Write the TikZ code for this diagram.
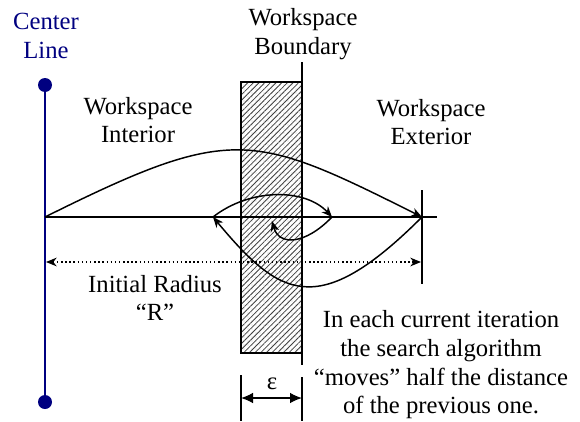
\documentclass[tikz,border=0pt]{standalone}
\usepackage{fontspec}
\setmainfont{Liberation Serif}
\usetikzlibrary{arrows.meta,patterns.meta}
\definecolor{navy}{RGB}{0,0,128}

\begin{document}
\begin{tikzpicture}[x=0.75pt,y=-0.75pt,
    lbl/.style={align=center, inner sep=0pt, font=\fontsize{18.5}{21.5}\selectfont},
    move/.style={line width=1.1pt, -{Stealth[length=8pt,width=6.5pt,inset=2.5pt]}},
    dot/.style={circle, fill=navy, inner sep=0pt, minimum size=10.5pt}]
  \useasboundingbox (0,0) rectangle (580,421);
  % Muro (zona epsilon) y frontera
  \fill[white] (241,82) rectangle (302,353);
  \fill[pattern={Dots[distance=3pt,radius=0.35pt]}, pattern color=black!60]
    (241,82) rectangle (302,353);
  \draw[line width=0.9pt,
        pattern={Lines[angle=45,distance=3pt,line width=0.6pt]},
        pattern color=black!75] (241,82) rectangle (302,353);
  \draw[line width=1.3pt] (302,62) coordinate (btop) -- (302,365) coordinate (bbot);
  % Linea central
  \node[dot] (ctop) at (45,85) {};
  \node[dot] (cbot) at (45,402) {};
  \draw[navy, line width=1.5pt] (ctop) -- (cbot);
  \node[lbl, navy] (center) at (46,36) {Center\\Line};
  % Rotulos
  \node[lbl] (interior) at (138,120) {Workspace\\Interior};
  \node[lbl] (boundary) at (303,34) {Workspace\\Boundary};
  \node[lbl] (exterior) at (431,122) {Workspace\\Exterior};
  \node[lbl] (radius) at (155,298) {Initial Radius\\``R''};
  \node[lbl] (note) at (441,365)
    {In each current iteration\\the search algorithm\\``moves'' half the distance\\of the previous one.};
  % Eje y marca del radio
  \coordinate (O) at (45,217);
  \coordinate (R) at (422,217);
  \draw[line width=1.1pt] (O) -- (437,217);
  \draw[line width=1.1pt] (422,190) -- (422,284);
  % Radio inicial punteado
  \coordinate (dl) at (46,262);
  \coordinate (dr) at (421,262);
  \draw[line width=1pt, dash pattern=on 1.1pt off 2pt,
        {Stealth[length=8pt,width=6.5pt,inset=2.5pt]}-{Stealth[length=8pt,width=6.5pt,inset=2.5pt]}]
    (dl) -- (dr);
  % Saltos de la busqueda
  \coordinate (p1) at (213,217);
  \coordinate (p2) at (332,217);
  \coordinate (p3) at (272,221);
  \draw[move] (O) .. controls (232,124) and (252,132) .. (R);
  \draw[move] (R) .. controls (317,322) and (279,296) .. (p1);
  \draw[move] (p1) .. controls (250,188) and (305,188) .. (p2);
  \draw[move] (p2) .. controls (305,245) and (279,246) .. (p3);
  % Cota epsilon
  \draw[line width=1.1pt] (241,375) coordinate (e1) -- (241,421);
  \draw[line width=1.1pt] (302,377) coordinate (e2) -- (302,421);
  \coordinate (el) at (241,398);
  \coordinate (er) at (302,398);
  \draw[line width=1.1pt, {Latex[length=9pt,width=8pt]}-{Latex[length=9pt,width=8pt]}] (el) -- (er);
  \node[lbl] (eps) at (272,384) {ε};
\end{tikzpicture}
\end{document}
